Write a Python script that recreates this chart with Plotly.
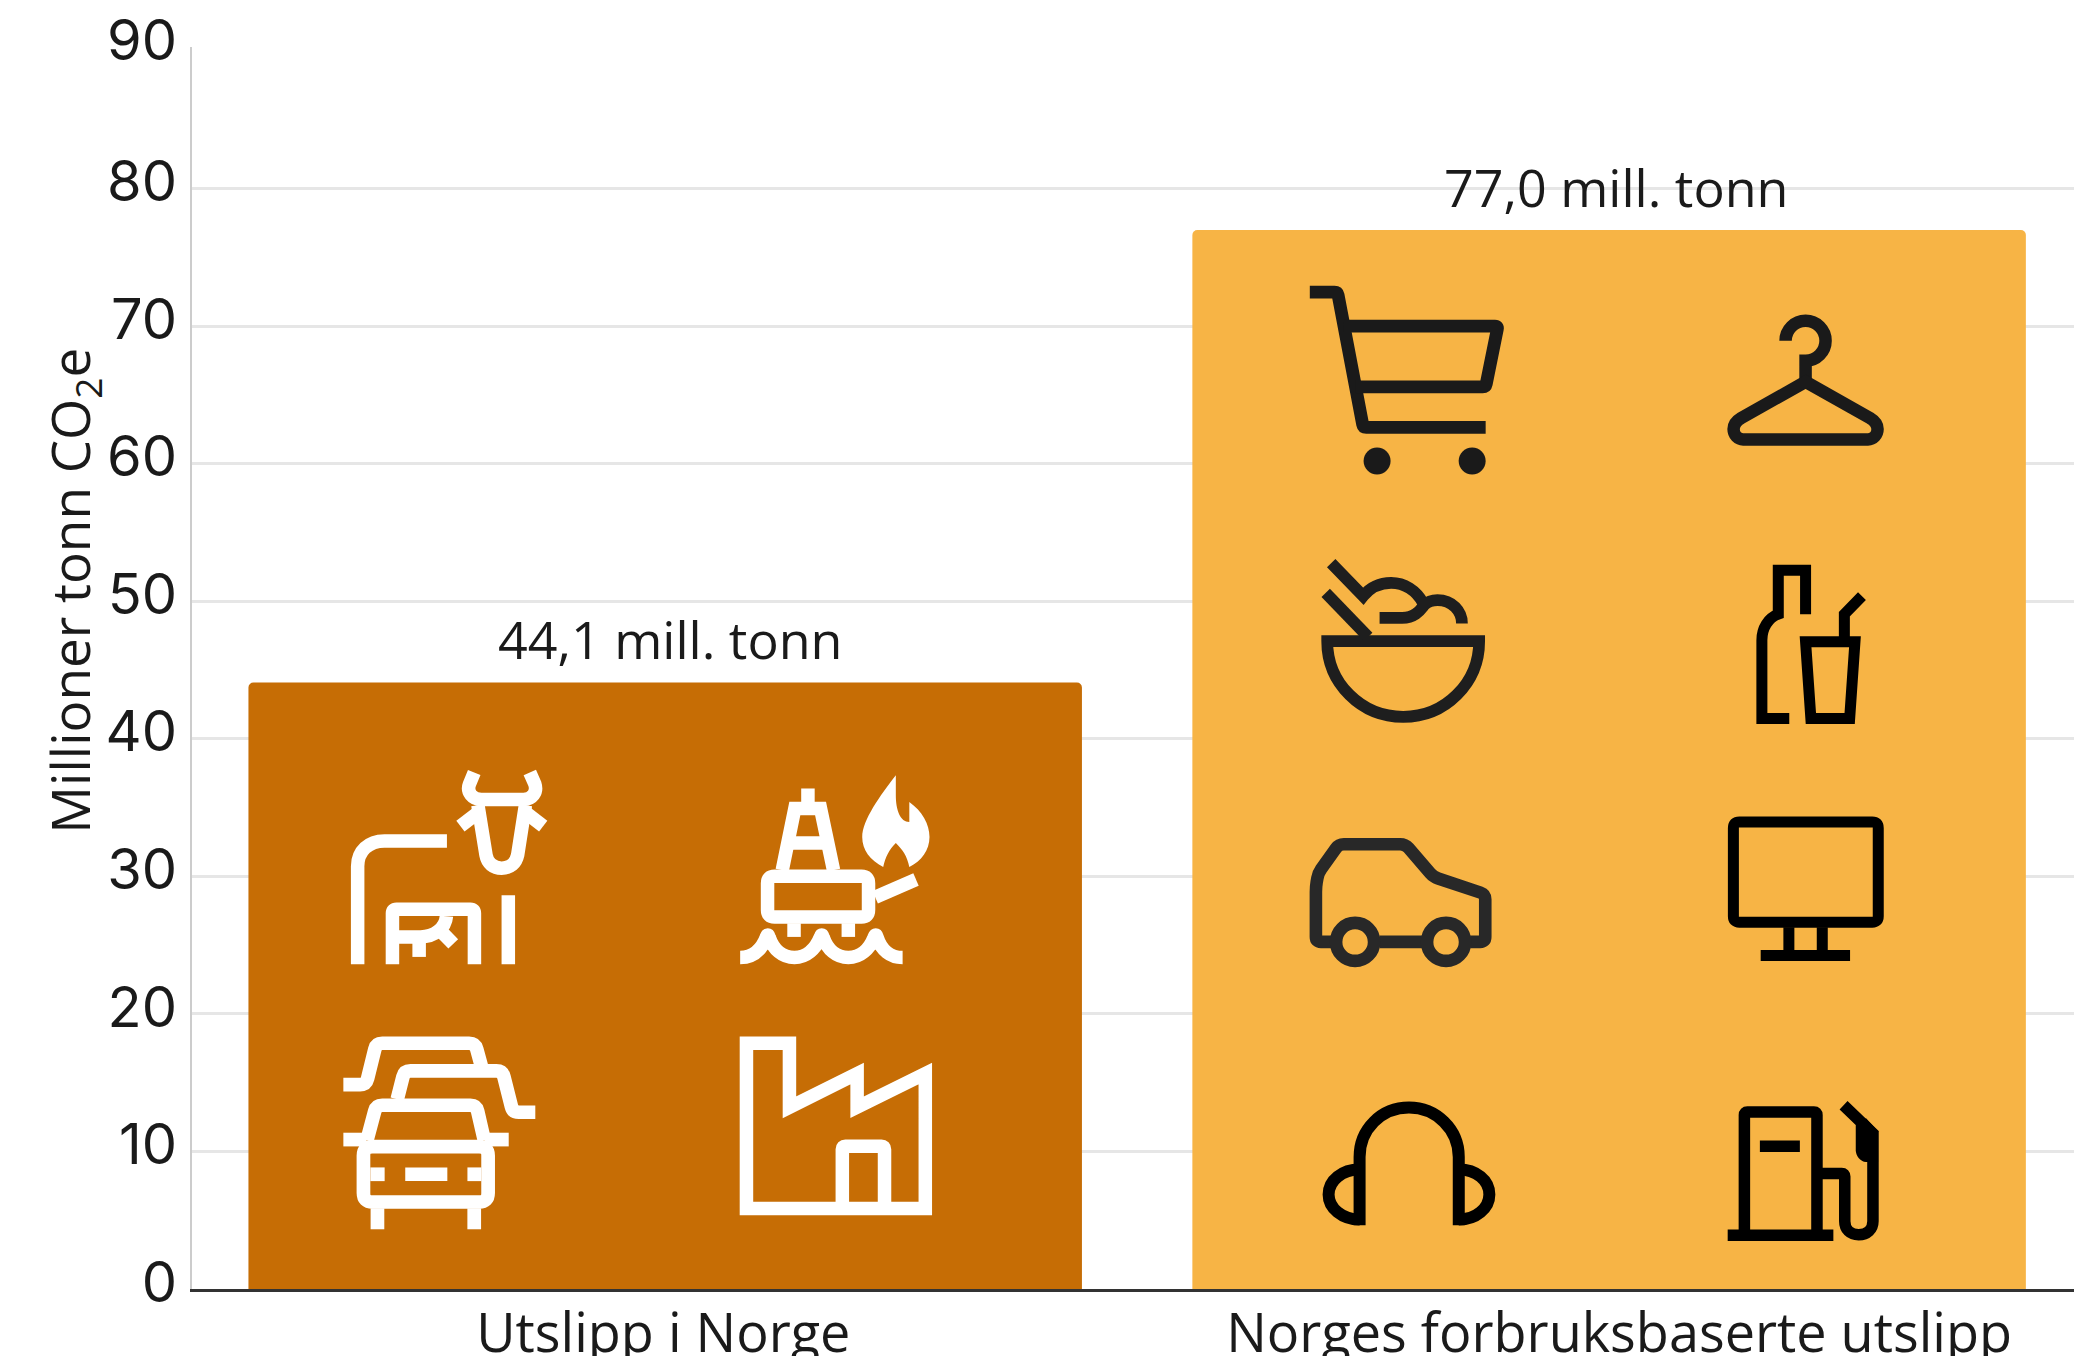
import re
import plotly.graph_objects as go

# ---------- data ----------
categories = ["Utslipp i Norge", "Norges forbruksbaserte utslipp"]
bar_positions = [0, 1]
label_positions = [-0.002, 1.0106]
values = [44.1, 77.0]
value_labels = ["44,1 mill. tonn", "77,0 mill. tonn"]
bar_colors = ["#C66D05", "#F7B445"]
tick_values = [0, 10, 20, 30, 40, 50, 60, 70, 80, 90.25]
tick_labels = ["0", "10", "20", "30", "40", "50", "60", "70", "80", "90"]
axis_title = "Millioner tonn CO<sub>2</sub>e"

# ---------- layout constants ----------
W, H = 2074, 1356
L, T, B = 191.5, 47.0, 1288.7
FONT = "Open Sans"
NUM_FONT = "Inter"
TXT = "#1a1a1a"


def to_paper(path):
    out, is_x = [], True
    for tok in re.findall(r"[A-Za-z]|-?\d+\.?\d*", path):
        if tok.isalpha():
            out.append(tok)
            is_x = True
        else:
            v = float(tok)
            out.append(f"{(v - L) / (W - L):.6f}" if is_x else f"{(B - v) / (B - T):.6f}")
            is_x = not is_x
    res, i = "", 0
    while i < len(out):
        t = out[i]
        if t.isalpha():
            res += t
            i += 1
        else:
            res += f"{t},{out[i + 1]} "
            i += 2
    return res.strip()


def poly(pts, r=3.0, closed=False):
    """Polyline with softly rounded corners."""
    n = len(pts)

    def toward(a, b, d):
        dx, dy = b[0] - a[0], b[1] - a[1]
        ln = (dx * dx + dy * dy) ** 0.5
        d = min(d, ln / 2)
        return a[0] + dx / ln * d, a[1] + dy / ln * d

    if closed:
        s = toward(pts[0], pts[1], r)
        p = f"M{s[0]:.1f},{s[1]:.1f} "
        seq = list(range(1, n)) + [0]
    else:
        p = f"M{pts[0][0]:.1f},{pts[0][1]:.1f} "
        seq = list(range(1, n - 1))
    for i in seq:
        a, b, c = pts[i - 1], pts[i], pts[(i + 1) % n]
        s, e = toward(b, a, r), toward(b, c, r)
        p += f"L{s[0]:.1f},{s[1]:.1f} Q{b[0]:.1f},{b[1]:.1f} {e[0]:.1f},{e[1]:.1f} "
    if closed:
        p += "Z"
    else:
        p += f"L{pts[-1][0]:.1f},{pts[-1][1]:.1f}"
    return p


def circle(cx, cy, r):
    k = 0.5523 * r
    return (f"M{cx - r},{cy} C{cx - r},{cy - k} {cx - k},{cy - r} {cx},{cy - r} "
            f"C{cx + k},{cy - r} {cx + r},{cy - k} {cx + r},{cy} "
            f"C{cx + r},{cy + k} {cx + k},{cy + r} {cx},{cy + r} "
            f"C{cx - k},{cy + r} {cx - r},{cy + k} {cx - r},{cy} Z")


WHITE = "#ffffff"
icons = []  # (path, stroke colour, stroke width, fill)


def stroke(col, w, *paths):
    for p in paths:
        icons.append((p, col, w, None))


def fill(col, *paths):
    for p in paths:
        icons.append((p, None, 0, col))


# cow
stroke(WHITE, 13.5,
       "M357.2,964 L357.2,866 C357.2,851 368,840.7 384,840.7 L446.5,840.7",
       poly([(392, 964), (392, 909), (474, 909), (474, 964)], 4),
       "M392,936.7 L420,936.7 C434,936.7 445,928 446,916",
       "M418.7,936.7 L418.7,956.7",
       "M442.7,933.3 L452.8,943.7",
       "M507.9,895 L507.9,964",
       "M473.8,772.3 L469,784 C466,792 472,799.3 481,799.3 L523,799.3 C532,799.3 537,792 534.5,784 L529.4,772.3",
       "M477.5,805 L485.6,855 C487,863 493,868 501.2,868 C510,868 515.5,863 517.2,855 L525,805",
       "M460,826 L477,813", "M542.8,826 L526,813")
# rig
stroke(WHITE, 13.5,
       poly([(767.2, 876), (868.2, 876), (868.2, 916.7), (767.2, 916.7)], 7, True),
       "M793.7,923 L793.7,936.7", "M848,923 L848,936.7",
       "M739.8,957.3 C752,957.3 761,950 766,937 C766.8,934 768,934 768.8,937 "
       "C773,949 782,957.3 794.1,957.3 C806,957.3 815,949 820,937 C820.8,934 822,934 822.8,937 "
       "C827,949 836,957.3 848,957.3 C860,957.3 869,949 873.8,937 C874.8,934 876,934 876.8,937 "
       "C881,950 890,957.3 902.3,957.3",
       "M781.9,870 L794.5,808.3 L820.2,808.3 L833.2,870",
       "M788.2,842.7 L827.4,842.7",
       "M807.6,788.3 L807.6,808.3",
       "M874.9,897 L915.7,879.3")
fill(WHITE,
     "M895.5,775 L895.5,795 C895.5,810 900,821.7 909,821.7 L909,801.7 C922,811 929.2,824 929.2,836.7 "
     "C929.2,850 921,861 909,866.7 C907,856 902,849 895.5,842.7 C889,849 885,857 882.9,866.7 "
     "C870,860 861.9,850 861.9,836.7 C861.9,820 880,795 895.5,775 Z")
# cars
stroke(WHITE, 13.7,
       poly([(363, 1146.3), (363, 1201.7), (487.7, 1201.7), (487.7, 1146.3)], 9, True),
       "M342.9,1139.3 L366,1139.3", "M484,1139.3 L508.3,1139.3",
       poly([(366.5, 1140), (375.8, 1105), (475.9, 1105), (483.9, 1140)], 6),
       "M369.9,1174 L384.2,1174", "M467,1174 L481,1174", "M404.8,1174 L446.9,1174",
       "M377,1208 L377,1229", "M473.8,1208 L473.8,1229",
       poly([(396.8, 1099), (404, 1070.7), (502, 1070.7), (512.5, 1112), (534.9, 1112)], 6),
       poly([(342.9, 1084.3), (365.7, 1084.3), (375.8, 1043), (474.7, 1043), (481, 1066)], 6))
# factory
stroke(WHITE, 13.5,
       "M746.1,1208.3 L746.1,1043 L789.1,1043 L789.1,1107 L856.8,1073.3 L856.8,1107 L925,1073.3 L925,1208.3 Z",
       poly([(842, 1208.3), (842, 1146), (884.2, 1146), (884.2, 1208.3)], 3))
# cart
BLK1 = "#1a1a1a"
stroke(BLK1, 12.8,
       poly([(1309.6, 292), (1337.3, 292), (1363.1, 427.3), (1485.5, 427.3)], 3),
       poly([(1343.5, 326), (1497.8, 326), (1485.5, 386.7), (1355.7, 386.7)], 3))
fill(BLK1, circle(1376.9, 461, 13.5), circle(1472, 461, 13.5))
# hanger
stroke(BLK1, 12.5,
       "M1785.5,340.7 C1785.5,329.7 1794.5,320.7 1805.5,320.7 C1816.5,320.7 1825.5,329.7 1825.5,340.7 "
       "C1825.5,351.7 1816.5,360.7 1805.5,360.7 L1805.5,381.7",
       "M1805.5,381.7 L1870,418 C1875,421 1877.5,425 1877.5,429 C1877.5,435 1873,439.3 1868,439.3 "
       "L1743,439.3 C1738,439.3 1733.5,435 1733.5,429 C1733.5,425 1736,421 1741,418 Z")
# bowl
stroke("#1e1e1e", 11.7,
       "M1327,641 L1479,641 C1479,683 1445,716.7 1403,716.7 C1361,716.7 1327,683 1327,641 Z",
       "M1325.5,592.7 L1368,636.7",
       "M1331,563 L1363,596 C1371,586 1381,582.7 1391,582.7 C1404,582.7 1416,590 1423,603",
       "M1379.4,617.7 L1402,617.7 C1415,617.7 1420,610 1424,605 C1428,601 1433,600 1437.3,600 "
       "C1452,600 1461.8,611 1461.8,623.3")
# bottle and glass
stroke("#000000", 11,
       "M1789.2,718.3 L1761.8,718.3 L1761.8,640 C1761.8,628 1768,618 1778.2,614 L1778.2,570 L1805.5,570 L1805.5,614",
       "M1805.5,641.7 L1854.9,641.7 L1849.6,718.3 L1810.8,718.3 Z",
       "M1844.3,641.7 L1844.3,614 L1861.9,596")
# car
stroke("#282828", 12.6,
       poly([(1336, 941.7), (1315.7, 941.7), (1315.7, 886.7), (1318, 873), (1338.6, 844), (1405, 844),
             (1433.3, 876.7), (1485.1, 894), (1485.1, 941.7), (1470, 941.7)], 5),
       "M1379.4,941.7 L1421.8,941.7",
       circle(1354.9, 941.7, 19), circle(1445.9, 941.7, 19))
# monitor
stroke("#000000", 11,
       poly([(1733.3, 821.7), (1878.2, 821.7), (1878.2, 922), (1733.3, 922)], 6, True),
       "M1788.8,927 L1788.8,955.3", "M1822.2,927 L1822.2,955.3",
       "M1760.6,955.3 L1850,955.3")
# headphones
stroke("#000000", 12,
       "M1359.4,1225 L1359.4,1156.7 C1359.4,1129 1381,1107.3 1408.8,1107.3 "
       "C1436,1107.3 1458.6,1129 1458.6,1156.7 L1458.6,1225",
       "M1359.4,1169.3 C1342,1169.3 1328.4,1180 1328.4,1194.3 C1328.4,1208 1342,1219.3 1359.4,1219.3",
       "M1458.6,1169.3 C1476,1169.3 1489.2,1180 1489.2,1194.3 C1489.2,1208 1476,1219.3 1458.6,1219.3")
# pump
stroke("#000000", 11.5,
       poly([(1744.3, 1235), (1744.3, 1111.7), (1816.9, 1111.7), (1816.9, 1235)], 3),
       "M1727.6,1235 L1833.3,1235",
       "M1759.8,1146 L1799.8,1146",
       poly([(1821.8, 1173.3), (1844.7, 1173.3), (1844.7, 1221)], 3)
       + " C1844.7,1229 1850,1234.5 1858.6,1234.5 C1867,1234.5 1872.9,1229 1872.9,1221 "
         "L1872.9,1133.3 L1843.5,1105")
fill("#000000",
     "M1855.7,1125 L1866,1118 L1878,1131 L1878,1161.7 L1866,1161.7 C1860,1161.7 1855.7,1155 1855.7,1150 Z")

shapes = []
for path, col, w, fc in icons:
    shapes.append(dict(
        type="path", xref="paper", yref="paper", layer="above", path=to_paper(path),
        line=dict(color=col, width=w) if col else dict(width=0),
        fillcolor=fc if fc else "rgba(0,0,0,0)",
    ))

fig = go.Figure(go.Bar(
    x=bar_positions, y=values, width=0.883, marker=dict(color=bar_colors, line=dict(width=0)),
    hoverinfo="skip",
))

annotations = [
    dict(x=c, y=v, xref="x", yref="y", text=t, showarrow=False, yanchor="bottom", yshift=6, xshift=dx,
         font=dict(family=FONT, size=52, color=TXT))
    for c, v, t, dx in zip(bar_positions, values, value_labels, [5, 7])
]
annotations.append(dict(
    xref="paper", yref="paper", text=axis_title, showarrow=False, textangle=-90,
    font=dict(family=FONT, size=53, color=TXT),
    x=(72 - L) / (W - L), y=(B - 591) / (B - T), xanchor="center", yanchor="middle",
))

fig.update_layout(
    width=W, height=H, autosize=False, showlegend=False, barcornerradius=5,
    paper_bgcolor="white", plot_bgcolor="white",
    margin=dict(l=L, r=0, t=T, b=H - B, pad=0, autoexpand=False),
    annotations=annotations, shapes=shapes,
    xaxis=dict(range=[-0.5013, 1.4925], tickmode="array", tickvals=label_positions, ticktext=categories,
               showgrid=False, ticks="", showline=True, automargin=False,
               linecolor="#333333", linewidth=3, zeroline=False, ticklabelstandoff=-5,
               tickfont=dict(family=FONT, size=54, color=TXT)),
    yaxis=dict(range=[0, 90.3], tickmode="array", tickvals=tick_values, ticktext=tick_labels,
               gridcolor="#e6e6e6", gridwidth=2.5, showline=True, linecolor="#cccccc", linewidth=1.5,
               zeroline=False, ticks="", ticklabelshift=-7, ticklabelstandoff=2, automargin=False,
               tickfont=dict(family=NUM_FONT, size=56, color=TXT)),
)

fig.write_html("out.html", config={"displayModeBar": False},
               post_script="document.body.style.margin='0';document.body.style.overflow='hidden';")
